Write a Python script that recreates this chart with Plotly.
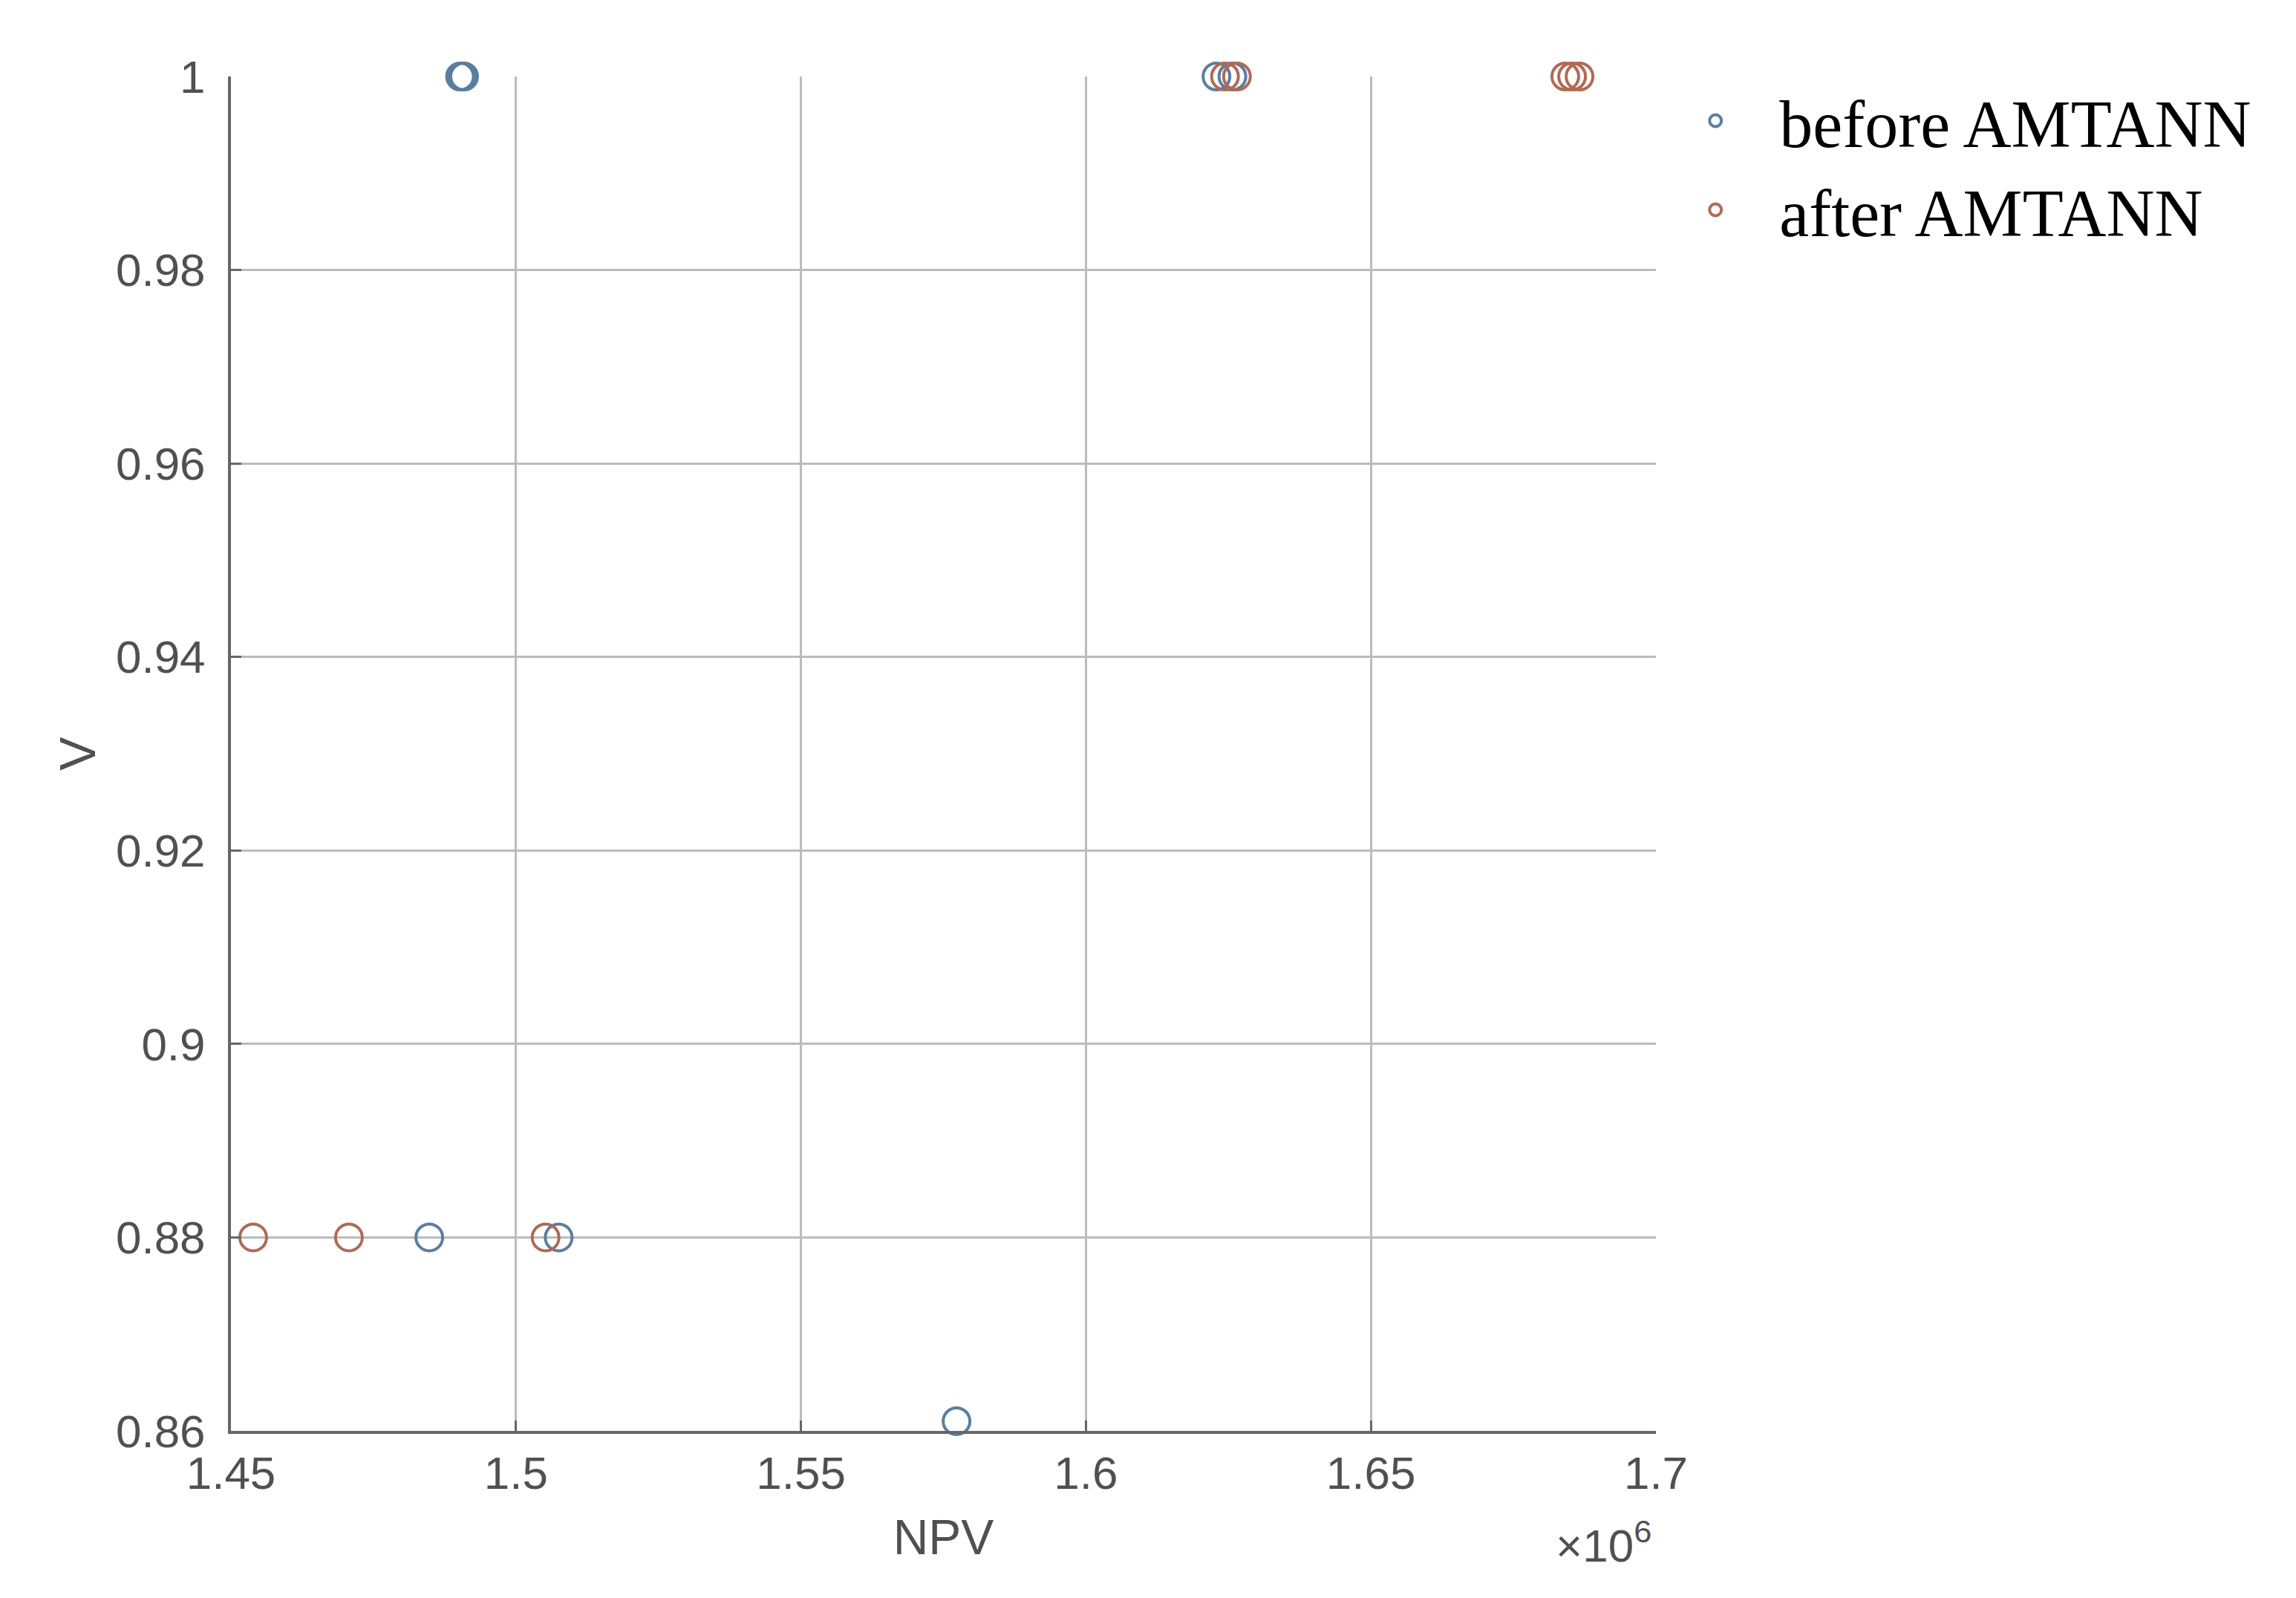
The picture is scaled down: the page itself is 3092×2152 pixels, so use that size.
import plotly.graph_objects as go

# values (NPV in units, V)
before_npv = [1.4902e6, 1.4906e6, 1.4909e6, 1.6229e6, 1.6257e6, 1.4848e6, 1.5075e6, 1.5773e6]
before_v = [1.0, 1.0, 1.0, 1.0, 1.0, 0.88, 0.88, 0.861]

after_npv = [1.6244e6, 1.6265e6, 1.6841e6, 1.6853e6, 1.6866e6, 1.4539e6, 1.4707e6, 1.5052e6]
after_v = [1.0, 1.0, 1.0, 1.0, 1.0, 0.88, 0.88, 0.88]

x_tickvals = [1.45e6, 1.5e6, 1.55e6, 1.6e6, 1.65e6, 1.7e6]
x_ticktext = ["1.45", "1.5", "1.55", "1.6", "1.65", "1.7"]
y_tickvals = [0.86, 0.88, 0.9, 0.92, 0.94, 0.96, 0.98, 1.0]
y_ticktext = ["0.86", "0.88", "0.9", "0.92", "0.94", "0.96", "0.98", "1"]

COLORS = {
    "before": "#5a7ea0",
    "after": "#b06a55",
    "axis": "#666666",
    "grid": "#bbbbbb",
    "text": "#505050",
}

fig = go.Figure()

fig.add_trace(go.Scatter(
    x=before_npv, y=before_v, mode="markers", name="before AMTANN",
    legendgroup="before", cliponaxis=False,
    marker=dict(symbol="circle-open", size=36, color=COLORS["before"],
                line=dict(width=4, color=COLORS["before"])),
))
fig.add_trace(go.Scatter(
    x=after_npv, y=after_v, mode="markers", name="after AMTANN",
    legendgroup="after", cliponaxis=False,
    marker=dict(symbol="circle-open", size=36, color=COLORS["after"],
                line=dict(width=4, color=COLORS["after"])),
))

fig.update_xaxes(
    range=[1.45e6, 1.7e6], tickvals=x_tickvals, ticktext=x_ticktext,
    showline=True, linecolor=COLORS["axis"], linewidth=4,
    showgrid=True, gridcolor=COLORS["grid"], gridwidth=3,
    ticks="inside", ticklen=14, tickwidth=3, tickcolor=COLORS["axis"],
    ticklabelstandoff=0, zeroline=False,
    tickfont=dict(family="Liberation Sans", size=62, color=COLORS["text"]),
    title=dict(text="NPV", standoff=30,
               font=dict(family="Liberation Sans", size=66, color=COLORS["text"])),
    automargin=False,
)
fig.update_yaxes(
    range=[0.86, 1.0], tickvals=y_tickvals, ticktext=y_ticktext,
    showline=True, linecolor=COLORS["axis"], linewidth=4,
    showgrid=True, gridcolor=COLORS["grid"], gridwidth=3,
    ticks="inside", ticklen=14, tickwidth=3, tickcolor=COLORS["axis"],
    ticklabelstandoff=18, zeroline=False,
    tickfont=dict(family="Liberation Sans", size=62, color=COLORS["text"]),
    title=dict(text="V", standoff=6,
               font=dict(family="Liberation Sans", size=68, color=COLORS["text"])),
    automargin=False,
)

fig.add_annotation(
    text="×10<sup>6</sup>", xref="paper", yref="paper", x=0.998, y=-0.06,
    xanchor="right", yanchor="top", showarrow=False,
    font=dict(family="Liberation Sans", size=62, color=COLORS["text"]),
)

fig.update_layout(
    width=3092, height=2152,
    margin=dict(l=303, r=870, t=95, b=233),
    plot_bgcolor="white", paper_bgcolor="white",
    showlegend=True,
    legend=dict(
        x=0.997, y=1.003, xanchor="left", yanchor="top",
        font=dict(family="Liberation Serif", size=90, color="black"),
        tracegroupgap=0, itemwidth=162, bgcolor="rgba(0,0,0,0)",
    ),
)

fig.write_html("out.html")
